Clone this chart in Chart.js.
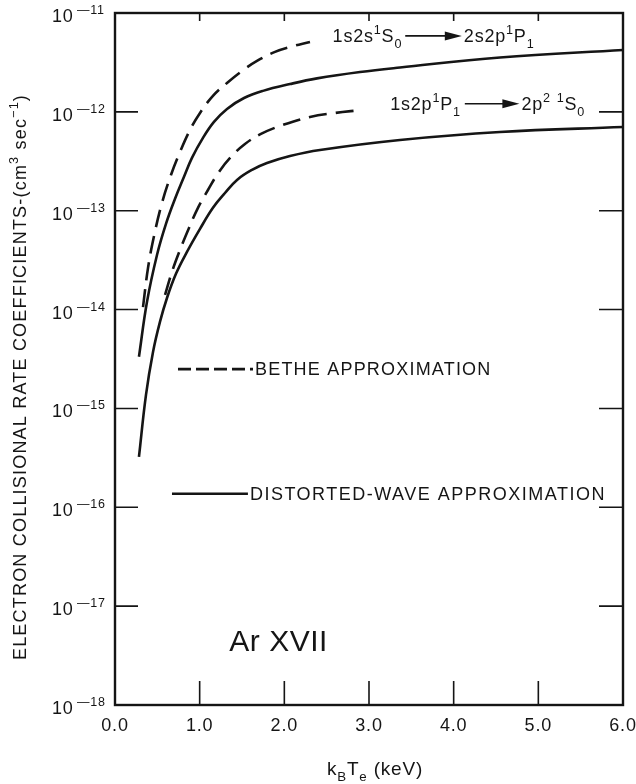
<!DOCTYPE html>
<html>
<head>
<meta charset="utf-8">
<script src="https://cdn.jsdelivr.net/npm/chart.js@4.4.1/dist/chart.umd.min.js"></script>
<style>
  html, body { margin: 0; padding: 0; background: #fff; }
  #wrap { width: 636px; height: 784px; }
</style>
</head>
<body>
<div id="wrap"><canvas id="grafico"></canvas></div>
<script>
// Valores: kBTe en keV, coeficiente en cm^3 s^-1
const energiaBetheS = [0.331, 0.39, 0.461, 0.555, 0.661, 0.768, 0.886, 1.004, 1.157, 1.323, 1.5, 1.677, 1.89, 2.067, 2.303];
const tasaBetheS = [1.06e-14, 2.64e-14, 5.56e-14, 1.2e-13, 2.3e-13, 3.93e-13, 6.56e-13, 9.75e-13, 1.45e-12, 1.96e-12, 2.59e-12, 3.27e-12, 4.04e-12, 4.53e-12, 5.09e-12];

const energiaDwS = [0.283, 0.378, 0.496, 0.602, 0.709, 0.815, 0.909, 1.039, 1.169, 1.323, 1.524, 1.748, 2.067, 2.386, 2.894, 3.366, 4.547, 6.0];
const tasaDwS = [3.33e-15, 1.2e-14, 3.57e-14, 7.36e-14, 1.32e-13, 2.2e-13, 3.42e-13, 5.45e-13, 7.91e-13, 1.07e-12, 1.38e-12, 1.63e-12, 1.91e-12, 2.18e-12, 2.53e-12, 2.81e-12, 3.55e-12, 4.23e-12];

const energiaBetheP = [0.591, 0.673, 0.768, 0.874, 0.98, 1.098, 1.228, 1.37, 1.535, 1.724, 1.984, 2.303, 2.598, 2.893];
const tasaBetheP = [1.41e-14, 2.41e-14, 4.02e-14, 6.7e-14, 1.07e-13, 1.62e-13, 2.47e-13, 3.5e-13, 4.73e-13, 5.98e-13, 7.38e-13, 8.88e-13, 9.75e-13, 1.04e-12];

const energiaDwP = [0.283, 0.366, 0.449, 0.531, 0.614, 0.72, 0.85, 1.004, 1.157, 1.299, 1.441, 1.618, 1.795, 2.067, 2.421, 3.366, 4.547, 6.0];
const tasaDwP = [3.24e-16, 1.37e-15, 3.73e-15, 7.51e-15, 1.31e-14, 2.3e-14, 3.83e-14, 6.55e-14, 1.07e-13, 1.51e-13, 2.05e-13, 2.59e-13, 3.04e-13, 3.58e-13, 4.12e-13, 5.2e-13, 6.26e-13, 7.03e-13];

const ticksX = [0, 1, 2, 3, 4, 5, 6];
const exponentesY = [-11, -12, -13, -14, -15, -16, -17, -18];

const FUENTE = '"Liberation Sans", Arial, sans-serif';
const TINTA = "#151515";

function puntos(xs, ys) {
  return xs.map((x, i) => ({ x, y: ys[i] }));
}

// dibuja texto con super/subíndices, devuelve la x final
function textoRico(ctx, x, y, partes, size) {
  for (const [t, tipo] of partes) {
    let s = size, dy = 0;
    if (tipo === "sup") { s = size * 0.7; dy = -size * 0.42; }
    if (tipo === "sub") { s = size * 0.7; dy = size * 0.32; }
    ctx.font = `${s}px ${FUENTE}`;
    ctx.fillText(t, x, y + dy);
    x += ctx.measureText(t).width;
  }
  return x;
}

function anchoRico(ctx, partes, size) {
  let w = 0;
  for (const [t, tipo] of partes) {
    const s = tipo === "n" ? size : size * 0.7;
    ctx.font = `${s}px ${FUENTE}`;
    w += ctx.measureText(t).width;
  }
  return w;
}

function flecha(ctx, x1, x2, y) {
  ctx.beginPath();
  ctx.moveTo(x1, y);
  ctx.lineTo(x2 - 10, y);
  ctx.lineWidth = 1.7;
  ctx.stroke();
  ctx.beginPath();
  ctx.moveTo(x2, y);
  ctx.lineTo(x2 - 17, y - 4.5);
  ctx.lineTo(x2 - 17, y + 4.5);
  ctx.closePath();
  ctx.fill();
}

const decorado = {
  id: "decorado",
  afterDraw(chart) {
    const { ctx, chartArea: a } = chart;
    const sx = chart.scales.x, sy = chart.scales.y;
    const P = (xv, yv) => [sx.getPixelForValue(xv), sy.getPixelForValue(yv)];

    ctx.save();
    ctx.strokeStyle = TINTA;
    ctx.fillStyle = TINTA;
    ctx.lineCap = "butt";

    // marco
    ctx.lineWidth = 2.4;
    ctx.strokeRect(a.left, a.top, a.right - a.left, a.bottom - a.top);

    // marcas del eje y (adentro, izquierda y derecha)
    ctx.lineWidth = 1.6;
    exponentesY.forEach((e) => {
      const y = sy.getPixelForValue(Math.pow(10, e));
      ctx.beginPath();
      ctx.moveTo(a.left, y); ctx.lineTo(a.left + 23, y);
      ctx.moveTo(a.right, y); ctx.lineTo(a.right - 24, y);
      ctx.stroke();
    });
    // marcas del eje x
    ticksX.forEach((v) => {
      const x = sx.getPixelForValue(v);
      ctx.beginPath();
      ctx.moveTo(x, a.bottom); ctx.lineTo(x, a.bottom - 24);
      ctx.moveTo(x, a.top); ctx.lineTo(x, a.top + 8);
      ctx.stroke();
    });

    ctx.letterSpacing = "0.8px";
    // etiquetas eje x
    ctx.font = `18px ${FUENTE}`;
    ctx.textAlign = "center";
    ctx.textBaseline = "alphabetic";
    ticksX.forEach((v) => {
      ctx.fillText(v.toFixed(1), sx.getPixelForValue(v), a.bottom + 26);
    });

    // etiquetas eje y: 10 con exponente
    ctx.textAlign = "left";
    exponentesY.forEach((e) => {
      const y = sy.getPixelForValue(Math.pow(10, e));
      ctx.font = `18px ${FUENTE}`;
      ctx.fillText("10", a.left - 63, y + 9);
      ctx.font = `12.5px ${FUENTE}`;
      ctx.fillText("\u2014" + String(-e), a.left - 38, y + 1);
    });

    // título eje x
    ctx.letterSpacing = "0.8px";
    const partesX = [["k", "n"], ["B", "sub"], ["T", "n"], ["e", "sub"], [" (keV)", "n"]];
    const wX = anchoRico(ctx, partesX, 19);
    textoRico(ctx, (a.left + a.right) / 2 - wX / 2 + 6, 775, partesX, 19);

    // título eje y (rotado)
    ctx.letterSpacing = "1.2px";
    const partesY = [["ELECTRON COLLISIONAL RATE COEFFICIENTS-(cm", "n"], ["3", "sup"], [" sec", "n"], ["\u22121", "sup"], [")", "n"]];
    const wY = anchoRico(ctx, partesY, 18);
    ctx.save();
    ctx.translate(26, 377);
    ctx.rotate(-Math.PI / 2);
    textoRico(ctx, -wY / 2, 0, partesY, 18);
    ctx.restore();

    // transiciones
    ctx.letterSpacing = "0.8px";
    let [x1, y1] = P(2.57, 5.1e-12);
    let fin = textoRico(ctx, x1, y1, [["1s2s", "n"], ["1", "sup"], ["S", "n"], ["0", "sub"]], 18);
    let [x2] = P(4.12, 5.1e-12);
    flecha(ctx, fin + 3, x2 - 2, y1 - 6);
    textoRico(ctx, x2, y1, [["2s2p", "n"], ["1", "sup"], ["P", "n"], ["1", "sub"]], 18);

    [x1, y1] = P(3.25, 1.05e-12);
    fin = textoRico(ctx, x1, y1, [["1s2p", "n"], ["1", "sup"], ["P", "n"], ["1", "sub"]], 18);
    [x2] = P(4.8, 1.05e-12);
    flecha(ctx, fin + 4, x2 - 2, y1 - 6);
    textoRico(ctx, x2, y1, [["2p", "n"], ["2", "sup"], [" ", "n"], ["1", "sup"], ["S", "n"], ["0", "sub"]], 18);

    // leyenda
    ctx.letterSpacing = "1.2px";
    ctx.lineWidth = 2.6;
    let [lx1, ly] = P(0.744, 2.5e-15);
    let [lx2] = P(1.63, 2.5e-15);
    ctx.setLineDash([13, 5]);
    ctx.beginPath(); ctx.moveTo(lx1, ly); ctx.lineTo(lx2, ly); ctx.stroke();
    ctx.setLineDash([]);
    ctx.font = `18px ${FUENTE}`;
    ctx.fillText("BETHE APPROXIMATION", lx2 + 2, ly + 6);

    [lx1, ly] = P(0.673, 1.37e-16);
    [lx2] = P(1.57, 1.37e-16);
    ctx.beginPath(); ctx.moveTo(lx1, ly); ctx.lineTo(lx2, ly); ctx.stroke();
    ctx.letterSpacing = "1.5px";
    ctx.fillText("DISTORTED-WAVE APPROXIMATION", lx2 + 2, ly + 6);

    // ion
    ctx.letterSpacing = "0.5px";
    const [ax, ay] = P(1.35, 3.5e-18);
    ctx.font = `30px ${FUENTE}`;
    ctx.fillText("Ar XVII", ax, ay);

    ctx.restore();
  }
};

const estilo = (dash) => ({
  borderColor: TINTA,
  borderWidth: 2.6,
  borderDash: dash,
  pointRadius: 0,
  fill: false,
  tension: 0.4,
});

new Chart(document.getElementById("grafico"), {
  type: "line",
  data: {
    datasets: [
      { label: "Bethe 1s2s-2s2p", data: puntos(energiaBetheS, tasaBetheS), ...estilo([18, 9]) },
      { label: "DW 1s2s-2s2p", data: puntos(energiaDwS, tasaDwS), ...estilo([]) },
      { label: "Bethe 1s2p-2p2", data: puntos(energiaBetheP, tasaBetheP), ...estilo([18, 9]) },
      { label: "DW 1s2p-2p2", data: puntos(energiaDwP, tasaDwP), ...estilo([]) },
    ],
  },
  options: {
    responsive: true,
    maintainAspectRatio: false,
    animation: false,
    layout: { padding: { left: 115, top: 13, right: 13, bottom: 79 } },
    plugins: { legend: { display: false }, tooltip: { enabled: false } },
    scales: {
      x: { type: "linear", min: 0, max: 6, display: false },
      y: { type: "logarithmic", min: 1e-18, max: 1e-11, display: false },
    },
  },
  plugins: [decorado],
});
</script>
</body>
</html>
